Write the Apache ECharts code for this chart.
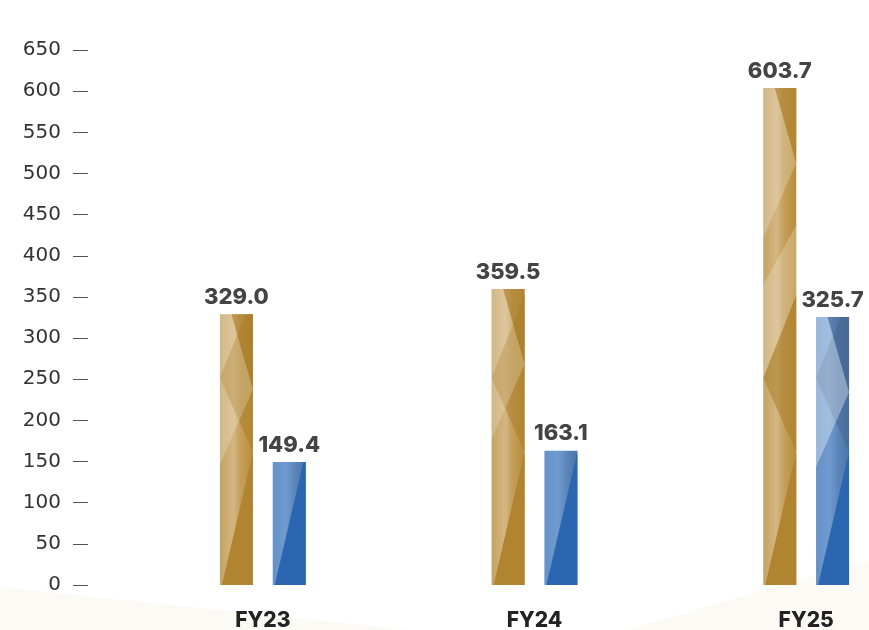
<!DOCTYPE html>
<html>
<head>
<meta charset="utf-8">
<script src="https://cdn.jsdelivr.net/npm/echarts@6/dist/echarts.min.js"></script>
<style>
  html, body { margin: 0; padding: 0; background: #ffffff; }
  #chart { width: 869px; height: 630px; }
</style>
</head>
<body>
<div id="chart"></div>
<script>
// Fiscal years and the two series per year
const categories = ['FY23', 'FY24', 'FY25'];
const goldValues = [329.0, 359.5, 603.7];
const blueValues = [149.4, 163.1, 325.7];
const yTicks = { min: 0, max: 650, step: 50 };

const BAR_W = 33;
const BAR_GAP_RATIO = 0.6;

const palette = {
  gold: {
    stops: [[0, '#c4a263'], [0.12, '#caa96d'], [0.42, '#d4b681'], [0.62, '#c59f5a'], [1, '#b88e3c']],
    dark: '#b08430',
    shade: 'rgba(170,125,40,0.55)',
    light: 'rgba(255,255,255,0.22)'
  },
  blue: {
    stops: [[0, '#6491c7'], [0.4, '#6f9bd0'], [0.7, '#5884b8'], [1, '#4976a7']],
    dark: '#2c66b0',
    shade: 'rgba(70,100,140,0.45)',
    light: 'rgba(255,255,255,0.35)'
  }
};

function hGradient(stops) {
  return new echarts.graphic.LinearGradient(0, 0, 1, 0,
    stops.map(s => ({ offset: s[0], color: s[1] })));
}

// Keep the part of a polygon that lies at or below the bar top (y >= t)
function clipTop(points, t) {
  const out = [];
  for (let i = 0; i < points.length; i++) {
    const a = points[i], c = points[(i + 1) % points.length];
    const ain = a[1] >= t, cin = c[1] >= t;
    if (ain) out.push(a);
    if (ain !== cin) {
      const k = (t - a[1]) / (c[1] - a[1]);
      out.push([a[0] + k * (c[0] - a[0]), t]);
    }
  }
  return out;
}

// Faceted highlights drawn over each bar
function renderFacets(params, api) {
  const cat = api.value(0), val = api.value(1), which = api.value(2);
  const topPt = api.coord([cat, val]);
  const basePt = api.coord([cat, 0]);
  const shift = (BAR_W + BAR_W * BAR_GAP_RATIO) / 2;
  const cx = topPt[0] + (which === 0 ? -shift : shift);
  const L = cx - BAR_W / 2, R = cx + BAR_W / 2, w = BAR_W;
  const t = topPt[1], b = basePt[1], h = b - t;
  const p = which === 0 ? palette.gold : palette.blue;

  const shapes = [];
  // lower-right solid facet
  shapes.push({ pts: [[L + 2, b], [R, b], [R, b - 133]], fill: p.dark });
  // wedge above it
  shapes.push({ pts: [[R, b - 133], [L, b - 207], [R, b - 290]], fill: p.shade });
  if (h > 220) {
    // highlight band on the upper left
    shapes.push({ pts: [[L, t], [L + 0.35 * w, t], [R, t + 75], [L, t + 150]], fill: p.light });
    // dark corner on the upper right
    shapes.push({ pts: [[L + 0.35 * w, t], [R, t], [R, t + 75]], fill: p.shade });
  }
  if (h > 380) {
    shapes.push({ pts: [[L, b - 207], [R, b - 290], [R, b - 360], [L, b - 300]], fill: p.light });
  }

  const children = [];
  shapes.forEach(s => {
    const pts = clipTop(s.pts, t);
    if (pts.length >= 3) {
      children.push({ type: 'polygon', shape: { points: pts }, style: { fill: s.fill }, silent: true });
    }
  });
  return { type: 'group', children };
}

const facetData = [];
categories.forEach((c, i) => {
  facetData.push([i, goldValues[i], 0]);
  facetData.push([i, blueValues[i], 1]);
});

const valueLabel = {
  show: true,
  position: 'top',
  distance: 6,
  fontFamily: 'Inter',
  fontWeight: 800,
  fontSize: 22,
  color: '#444444',
  formatter: p => p.value.toFixed(1)
};

const chart = echarts.init(document.getElementById('chart'), null, { renderer: 'canvas' });

chart.setOption({
  backgroundColor: '#ffffff',
  animation: false,
  graphic: [
    {
      type: 'polygon', z: -10, silent: true,
      shape: { points: [[0, 587], [420, 631], [0, 631]] },
      style: { fill: '#fbfaf5' }
    },
    {
      type: 'polygon', z: -10, silent: true,
      shape: { points: [[623, 631], [869, 560], [869, 631]] },
      style: { fill: '#fbfaf5' }
    }
  ],
  grid: {
    left: 127, top: 50, right: -73, bottom: 45,
    containLabel: false,
    outerBoundsMode: 'none'
  },
  xAxis: {
    type: 'category',
    data: categories,
    axisLine: { show: false },
    axisTick: { show: false },
    axisLabel: {
      margin: 25,
      fontFamily: 'Inter',
      fontWeight: 800,
      fontSize: 21,
      color: '#222222'
    }
  },
  yAxis: {
    type: 'value',
    min: yTicks.min,
    max: yTicks.max,
    interval: yTicks.step,
    offset: 39,
    axisLine: { show: false },
    axisTick: { show: true, length: 15, lineStyle: { color: '#555555', width: 1 } },
    splitLine: { show: false },
    axisLabel: {
      margin: 27,
      fontFamily: 'DejaVu Sans',
      fontSize: 20,
      color: '#333333'
    }
  },
  series: [
    {
      type: 'bar',
      data: goldValues,
      barWidth: BAR_W,
      barGap: (BAR_GAP_RATIO * 100) + '%',
      itemStyle: { color: hGradient(palette.gold.stops) },
      label: valueLabel
    },
    {
      type: 'bar',
      data: blueValues,
      barWidth: BAR_W,
      itemStyle: { color: hGradient(palette.blue.stops) },
      label: valueLabel
    },
    {
      type: 'custom',
      data: facetData,
      encode: { x: 0, y: 1 },
      renderItem: renderFacets,
      silent: true,
      z: 3
    }
  ]
});
</script>
</body>
</html>
